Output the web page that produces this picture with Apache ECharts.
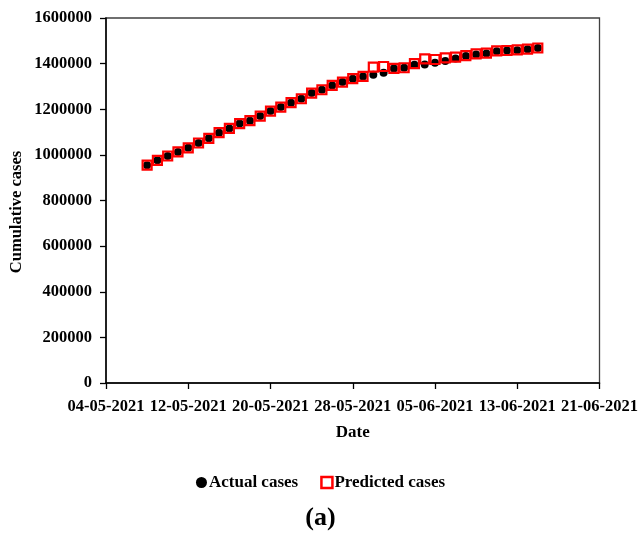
<!DOCTYPE html>
<html>
<head>
<meta charset="utf-8">
<script src="https://cdn.jsdelivr.net/npm/echarts@6/dist/echarts.min.js"></script>
<style>
  html, body { margin: 0; padding: 0; background: #fff; }
  #chart { width: 641px; height: 547px; }
</style>
</head>
<body>
<div id="chart"></div>
<script>
// Daily dates of the observation window (DD-MM-YYYY)
const dates = [
  '08-05-2021','09-05-2021','10-05-2021','11-05-2021','12-05-2021','13-05-2021','14-05-2021',
  '15-05-2021','16-05-2021','17-05-2021','18-05-2021','19-05-2021','20-05-2021','21-05-2021',
  '22-05-2021','23-05-2021','24-05-2021','25-05-2021','26-05-2021','27-05-2021','28-05-2021',
  '29-05-2021','30-05-2021','31-05-2021','01-06-2021','02-06-2021','03-06-2021','04-06-2021',
  '05-06-2021','06-06-2021','07-06-2021','08-06-2021','09-06-2021','10-06-2021','11-06-2021',
  '12-06-2021','13-06-2021','14-06-2021','15-06-2021'
];

// Reported cumulative cases
const actualCases = [
  955000, 976000, 995000, 1013000, 1031000, 1052000, 1072500,
  1097500, 1116000, 1137000, 1150000, 1170000, 1192000, 1209500,
  1229000, 1246000, 1271000, 1285500, 1304500, 1319000, 1334000,
  1344000, 1351500, 1360000, 1379000, 1382000, 1395000, 1396500,
  1404000, 1412000, 1423000, 1433500, 1440000, 1444500, 1454500,
  1457000, 1459000, 1463500, 1468000
];

// Model-predicted cumulative cases
const predictedCases = [
  955000, 976000, 995000, 1013000, 1031000, 1052000, 1072500,
  1097500, 1116000, 1137000, 1150000, 1170000, 1192000, 1209500,
  1229000, 1246000, 1271000, 1285500, 1304500, 1319000, 1334000,
  1344000, 1384500, 1387500, 1379000, 1382000, 1400000, 1420500,
  1418000, 1425000, 1428500, 1435000, 1442500, 1446000, 1455500,
  1457500, 1460000, 1464000, 1468500
];

// X axis: start date, span and tick step in days
const axisStart = '04-05-2021';
const axisSpanDays = 48;
const tickStepDays = 8;

// Y axis range and step
const yMax = 1600000;
const yStep = 200000;

const DAY = 86400000;
function parseDMY(s) {
  const [d, m, y] = s.split('-').map(Number);
  return Date.UTC(y, m - 1, d);
}
const origin = parseDMY(axisStart);
const dayIndex = s => Math.round((parseDMY(s) - origin) / DAY);
function dayLabel(n) {
  const t = new Date(origin + n * DAY);
  const p = v => String(v).padStart(2, '0');
  return p(t.getUTCDate()) + '-' + p(t.getUTCMonth() + 1) + '-' + t.getUTCFullYear();
}

const actualData = dates.map((d, i) => [dayIndex(d), actualCases[i]]);
const predictedData = dates.map((d, i) => [dayIndex(d), predictedCases[i]]);

const FONT = '"Liberation Serif", "Times New Roman", serif';

const chart = echarts.init(document.getElementById('chart'), null, { renderer: 'canvas' });
chart.setOption({
  animation: false,
  backgroundColor: '#ffffff',
  grid: {
    left: 106, right: 40, top: 18, bottom: 164,
    show: true, borderColor: '#404040', borderWidth: 1.3, backgroundColor: 'transparent'
  },
  xAxis: {
    type: 'value',
    min: 0, max: axisSpanDays, interval: tickStepDays,
    name: 'Date',
    nameLocation: 'middle',
    nameGap: 41,
    nameTextStyle: { fontFamily: FONT, fontWeight: 'bold', fontSize: 17, color: '#000' },
    axisLine: { show: true, onZero: false, lineStyle: { color: '#000', width: 1.5 } },
    axisTick: { show: true, inside: false, length: 6, lineStyle: { color: '#000', width: 1.3 } },
    axisLabel: {
      formatter: v => dayLabel(v),
      fontFamily: FONT, fontWeight: 'bold', fontSize: 16.5, color: '#000', margin: 15,
      showMinLabel: true, showMaxLabel: true, hideOverlap: false
    },
    splitLine: { show: false }
  },
  yAxis: {
    type: 'value',
    min: 0, max: yMax, interval: yStep,
    axisLine: { show: true, lineStyle: { color: '#000', width: 1.5 } },
    axisTick: { show: true, inside: false, length: 6, lineStyle: { color: '#000', width: 1.3 } },
    axisLabel: {
      formatter: v => String(v),
      fontFamily: FONT, fontWeight: 'bold', fontSize: 16.5, color: '#000', margin: 14
    },
    splitLine: { show: false }
  },
  graphic: [
    {
      type: 'text',
      x: 17, y: 212,
      rotation: Math.PI / 2,
      style: {
        text: 'Cumulative cases',
        fontFamily: FONT, fontWeight: 'bold', fontSize: 16.5, fill: '#000',
        align: 'center', verticalAlign: 'middle'
      }
    }
  ],
  legend: {
    top: 469,
    left: 'center',
    itemGap: 22,
    itemWidth: 11,
    itemHeight: 11,
    textStyle: { fontFamily: FONT, fontWeight: 'bold', fontSize: 17, color: '#000', padding: [0, 0, 0, -3] },
    data: [
      { name: 'Actual cases', icon: 'circle', itemStyle: { color: '#000', borderWidth: 0, opacity: 1 } },
      { name: 'Predicted cases', icon: 'rect', itemStyle: { color: '#fff', borderColor: '#ff0000', borderWidth: 2.5, opacity: 1 } }
    ]
  },
  title: {
    text: '(a)',
    left: 'center',
    top: 500,
    textStyle: { fontFamily: FONT, fontWeight: 'bold', fontSize: 26, color: '#000' }
  },
  series: [
    {
      name: 'Actual cases',
      type: 'scatter',
      symbol: 'circle',
      symbolSize: 8,
      itemStyle: { color: '#000', opacity: 1 },
      data: actualData,
      z: 2
    },
    {
      name: 'Predicted cases',
      type: 'scatter',
      symbol: 'rect',
      symbolSize: 9,
      itemStyle: { color: 'transparent', borderColor: '#ff0000', borderWidth: 2.2, opacity: 1 },
      data: predictedData,
      z: 3
    }
  ]
});
</script>
</body>
</html>
